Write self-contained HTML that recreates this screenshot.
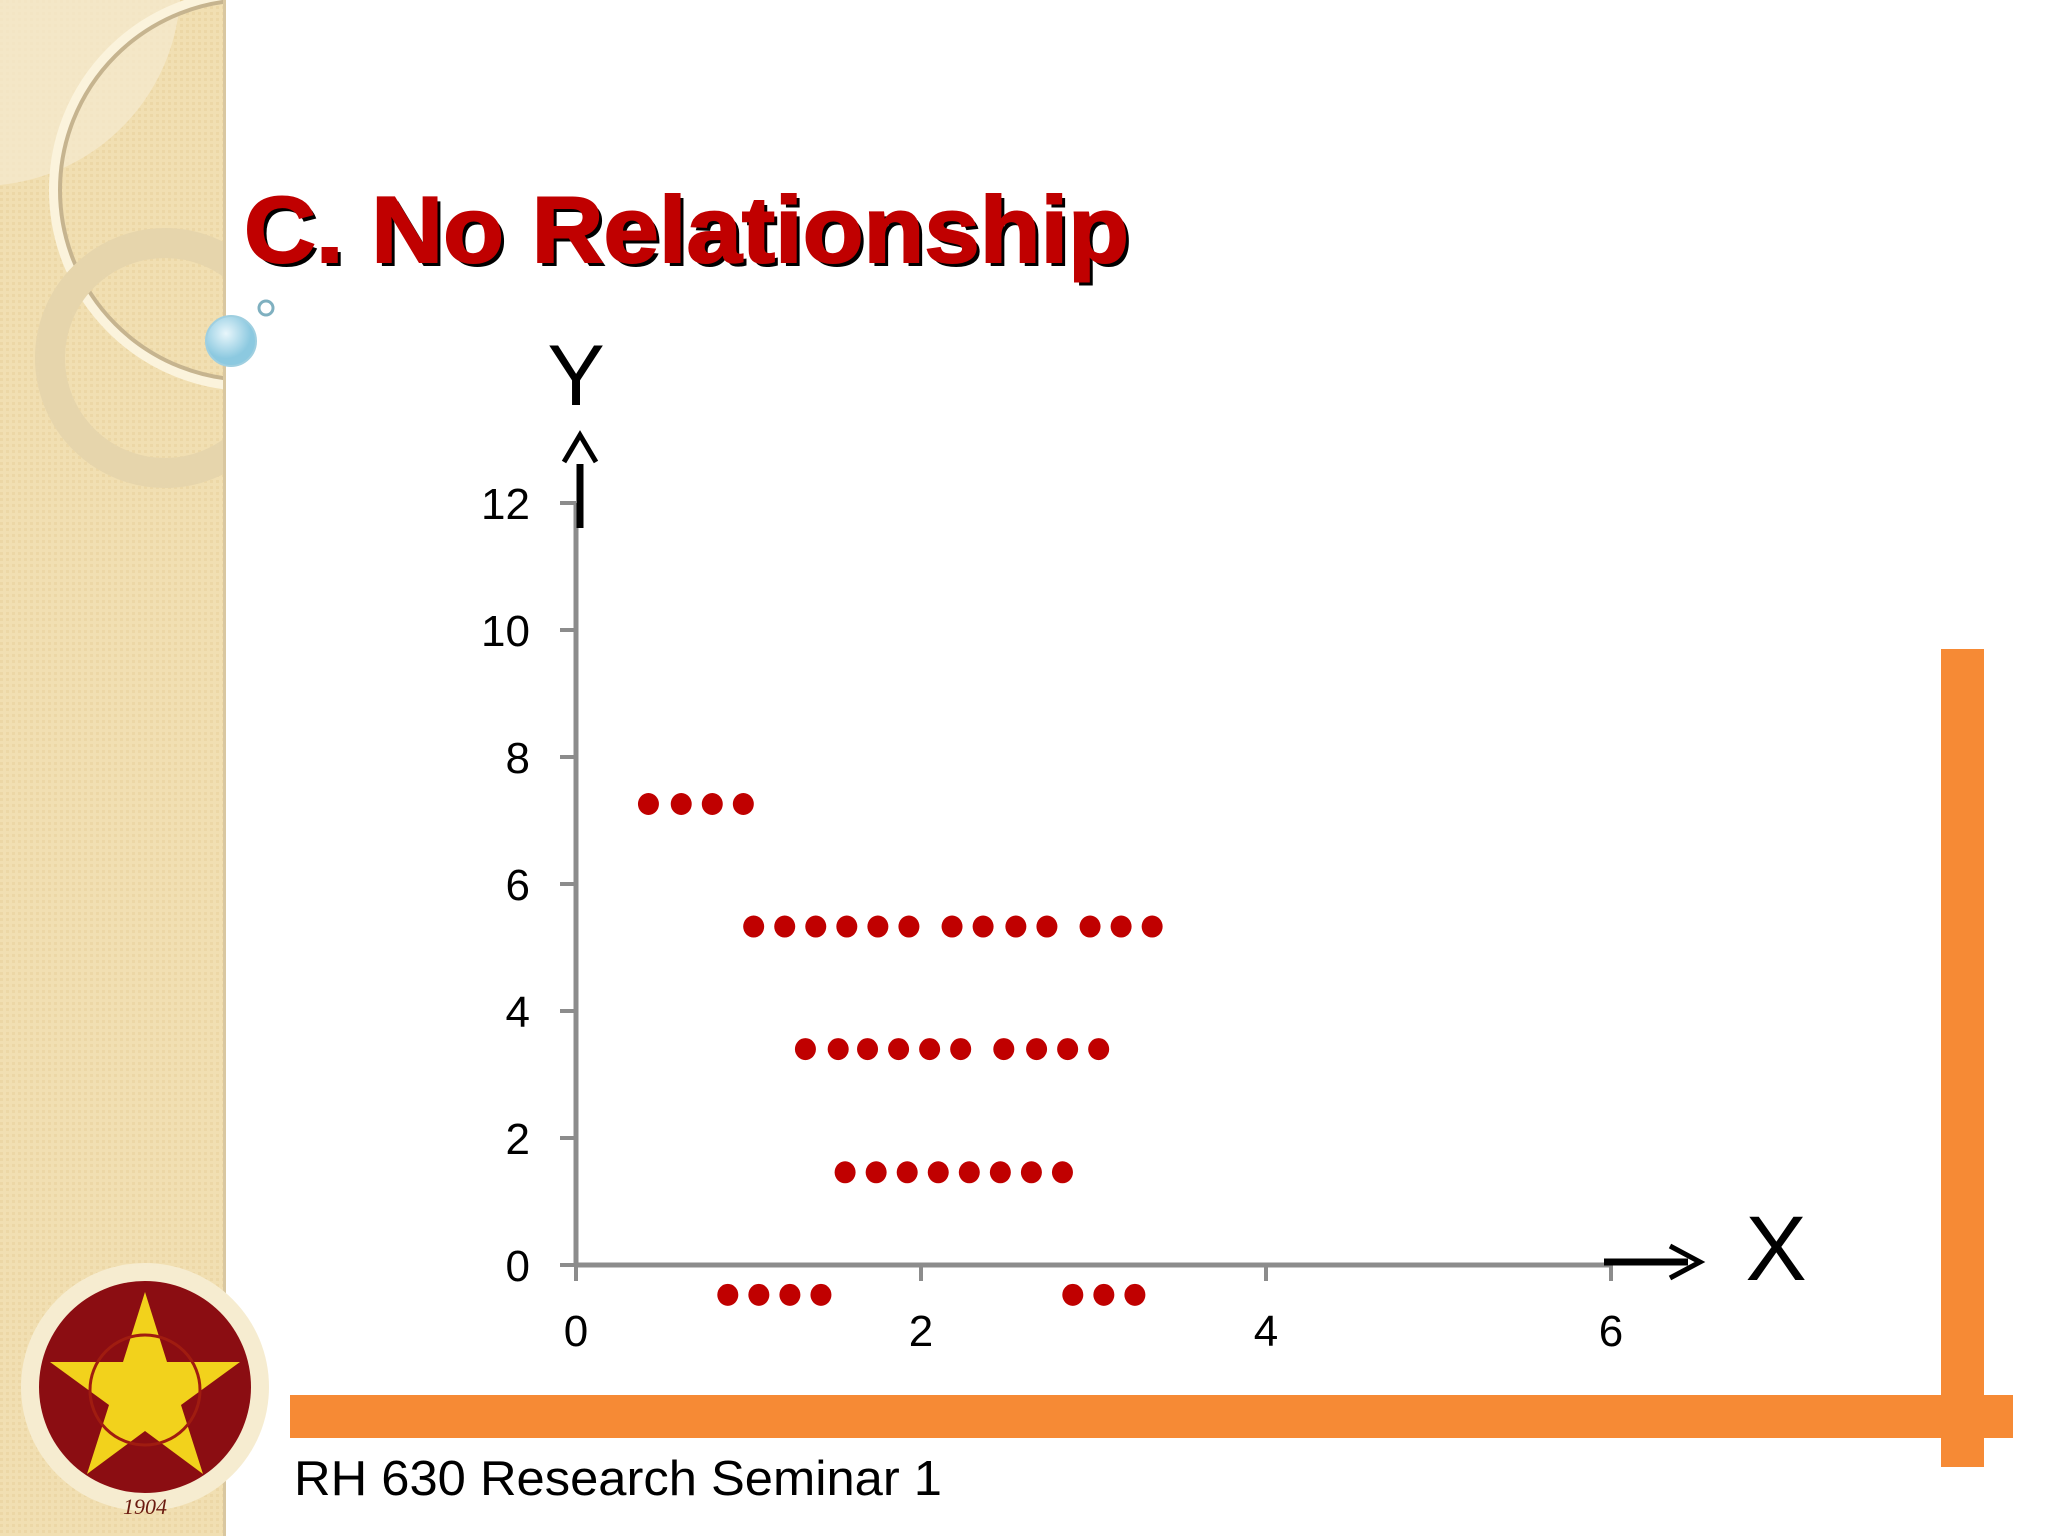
<!DOCTYPE html>
<html><head><meta charset="utf-8"><style>
html,body{margin:0;padding:0;background:#fff}
svg{display:block}
</style></head><body>
<svg id="chart" width="2048" height="1536" viewBox="0 0 2048 1536" xmlns="http://www.w3.org/2000/svg">
<defs>
<pattern id="tex" width="6" height="6" patternUnits="userSpaceOnUse"><rect width="6" height="6" fill="#f1dfb2"/><rect width="3" height="3" fill="#ecd7a6"/></pattern>
<radialGradient id="bub" cx="40%" cy="35%"><stop offset="0" stop-color="#e8f6fb"/><stop offset="1" stop-color="#8cc9e0"/></radialGradient>
<clipPath id="panelclip"><rect x="0" y="0" width="226" height="1536"/></clipPath>
</defs>
<g clip-path="url(#panelclip)">
<rect x="0" y="0" width="226" height="1536" fill="url(#tex)"/>
<path d="M0 0 H180 A200 200 0 0 1 0 185 Z" fill="#f5e8cc" opacity="0.8"/>
<circle cx="250" cy="190" r="195" fill="none" stroke="#fbf3dc" stroke-width="12"/>
<circle cx="250" cy="190" r="190" fill="none" stroke="#c6b48f" stroke-width="4"/>
<circle cx="165" cy="358" r="115" fill="none" stroke="#e6d5ac" stroke-width="30"/>
<rect x="223" y="0" width="3" height="1536" fill="#d9c7a0"/>
</g>
<circle cx="231" cy="341" r="25" fill="url(#bub)" stroke="#9fcfe0" stroke-width="2"/>
<circle cx="266" cy="308" r="7" fill="#fff" stroke="#7fb0c0" stroke-width="3"/>
<g>
<circle cx="145" cy="1387" r="124" fill="#f6ecd0"/>
<circle cx="145" cy="1387" r="106" fill="#8b0d12"/>
<polygon points="145,1292 167,1362 240,1362 181,1405 203,1474 145,1431 87,1474 109,1405 50,1362 123,1362" fill="#f2d21c"/>
<circle cx="145" cy="1390" r="55" fill="none" stroke="#a01c10" stroke-width="3"/>
<text x="145" y="1514" font-family="Liberation Serif, serif" font-size="22" font-style="italic" fill="#6b1a10" text-anchor="middle">1904</text>
</g>
<text x="248" y="266" font-family="Liberation Sans, sans-serif" font-weight="bold" font-size="94" fill="#000" textLength="885" lengthAdjust="spacingAndGlyphs">C. No Relationship</text>
<text x="244" y="262" font-family="Liberation Sans, sans-serif" font-weight="bold" font-size="94" fill="#c00000" stroke="#c00000" stroke-width="2" textLength="885" lengthAdjust="spacingAndGlyphs">C. No Relationship</text>
<rect x="1941" y="649" width="43" height="818" fill="#f68a35"/>
<rect x="290" y="1395" width="1723" height="43" fill="#f68a35"/>
<text x="294" y="1495" font-family="Liberation Sans, sans-serif" font-size="49" fill="#000" textLength="648" lengthAdjust="spacingAndGlyphs">RH 630 Research Seminar 1</text>
<g id="plot"></g>
</svg>
<script>
const xTicks = [0, 2, 4, 6];
const yTicks = [0, 2, 4, 6, 8, 10, 12];
const row1X = [0.42, 0.61, 0.79, 0.97];
const row1Y = 7.26;
const row2X = [1.03, 1.21, 1.39, 1.57, 1.75, 1.93, 2.18, 2.36, 2.55, 2.73, 2.98, 3.16, 3.34];
const row2Y = 5.33;
const row3X = [1.33, 1.52, 1.69, 1.87, 2.05, 2.23, 2.48, 2.67, 2.85, 3.03];
const row3Y = 3.40;
const row4X = [1.56, 1.74, 1.92, 2.10, 2.28, 2.46, 2.64, 2.82];
const row4Y = 1.46;
const row5X = [0.88, 1.06, 1.24, 1.42, 2.88, 3.06, 3.24];
const row5Y = -0.47;

const NS = 'http://www.w3.org/2000/svg';
const g = document.getElementById('plot');
const sx = v => 576 + v * 172.5;
const sy = v => 1265 - v * 63.5;
function mk(tag, attrs, parent) {
  const e = document.createElementNS(NS, tag);
  for (const k in attrs) e.setAttribute(k, attrs[k]);
  (parent || g).appendChild(e);
  return e;
}
const font = 'Liberation Sans, DejaVu Sans, sans-serif';
let e;
e = mk('line', {x1: sx(0), y1: sy(12), x2: sx(0), y2: sy(0), stroke: '#8c8c8c', 'stroke-width': 5});


e = mk('line', {x1: sx(0), y1: sy(0), x2: sx(6), y2: sy(0), stroke: '#8c8c8c', 'stroke-width': 5});


yTicks.forEach(t => {
  const l = mk('line', {x1: sx(0) - 16, y1: sy(t), x2: sx(0), y2: sy(t), stroke: '#8c8c8c', 'stroke-width': 4});
  
  
  const tx = mk('text', {x: 530, y: sy(t) + 16, 'font-family': font, 'font-size': 44, fill: '#000', 'text-anchor': 'end'});
  tx.textContent = String(t);
  
  
});
xTicks.forEach(t => {
  const l = mk('line', {x1: sx(t), y1: sy(0), x2: sx(t), y2: sy(0) + 16, stroke: '#8c8c8c', 'stroke-width': 4});
  
  
  const tx = mk('text', {x: sx(t), y: 1346, 'font-family': font, 'font-size': 44, fill: '#000', 'text-anchor': 'middle'});
  tx.textContent = String(t);
  
  
});
const rows = [[row1X, row1Y], [row2X, row2Y], [row3X, row3Y], [row4X, row4Y], [row5X, row5Y]];
rows.forEach(([xs, yv]) => {
  xs.forEach(xv => {
    const d = mk('ellipse', {cx: sx(xv), cy: sy(yv), rx: 10.5, ry: 11, fill: '#c00000'});
    
    
  });
});
e = mk('line', {x1: 580, y1: 464, x2: 580, y2: 528, stroke: '#000', 'stroke-width': 7});


e = mk('polyline', {points: '564,462 580,435 596,462', fill: 'none', stroke: '#000', 'stroke-width': 5});


e = mk('text', {x: 576, y: 405, 'font-family': font, 'font-size': 86, fill: '#000', 'text-anchor': 'middle'});
e.textContent = 'Y';


e = mk('line', {x1: 1604, y1: 1262, x2: 1688, y2: 1262, stroke: '#000', 'stroke-width': 7});


e = mk('polyline', {points: '1670,1246 1700,1262 1670,1278', fill: 'none', stroke: '#000', 'stroke-width': 5});


e = mk('text', {x: 1776, y: 1280, 'font-family': font, 'font-size': 92, fill: '#000', 'text-anchor': 'middle'});
e.textContent = 'X';


</script>
</body></html>
